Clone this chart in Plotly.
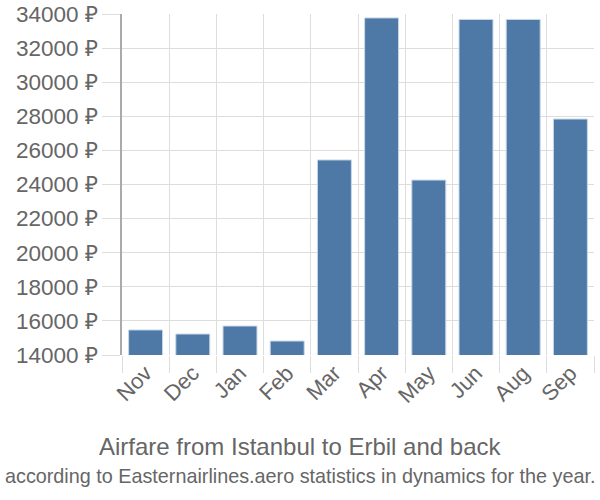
import plotly.graph_objects as go

months = ["Nov", "Dec", "Jan", "Feb", "Mar", "Apr", "May", "Jun", "Aug", "Sep"]
prices = [15470, 15230, 15700, 14820, 25440, 33770, 24260, 33680, 33680, 27840]
y_ticks = list(range(14000, 34001, 2000))
y_tick_text = [f"{v} ₽" for v in y_ticks]

title = "Airfare from Istanbul to Erbil and back"
subtitle = "according to Easternairlines.aero statistics in dynamics for the year."

L, R, T, B = 122, 6, 14, 145
W, H = 600, 500
pw = W - L - R

fig = go.Figure(go.Bar(
    x=months, y=prices,
    marker=dict(color="#4e79a7", line=dict(color="#c9d8e8", width=1)),
))

fig.update_layout(
    width=W, height=H,
    margin=dict(l=L, r=R, t=T, b=B, pad=0),
    plot_bgcolor="white", paper_bgcolor="white",
    bargap=0.28,
    showlegend=False,
    font=dict(family="Liberation Sans, Arial, sans-serif", color="#666666", size=21),
    xaxis=dict(
        type="category", tickson="boundaries", showgrid=True,
        gridcolor="#dddddd", gridwidth=1,
        ticks="outside", ticklen=17, tickcolor="#dddddd", tickwidth=1,
        tickangle=-45, tickfont=dict(size=22, color="#666666"),
        showline=False, zeroline=False, automargin=False,
    ),
    yaxis=dict(
        range=[14000, 34000], tickvals=y_ticks, ticktext=y_tick_text,
        showgrid=True, gridcolor="#dddddd", gridwidth=1,
        ticks="outside", ticklen=18, tickcolor="#dddddd", tickwidth=1,
        tickfont=dict(size=22.5, color="#666666"),
        showline=True, linecolor="#aaaaaa", linewidth=1.5,
        zeroline=False, automargin=False,
    ),
    annotations=[
        dict(text=title, xref="paper", yref="paper",
             x=(300 - L) / pw, y=-(446 - (H - B)) / (H - T - B),
             xanchor="center", yanchor="middle", showarrow=False,
             font=dict(size=24, color="#666666")),
        dict(text=subtitle, xref="paper", yref="paper",
             x=(300 - L) / pw, y=-(476 - (H - B)) / (H - T - B),
             xanchor="center", yanchor="middle", showarrow=False,
             font=dict(size=19.8, color="#666666")),
    ],
)

fig.write_html("out.html")
